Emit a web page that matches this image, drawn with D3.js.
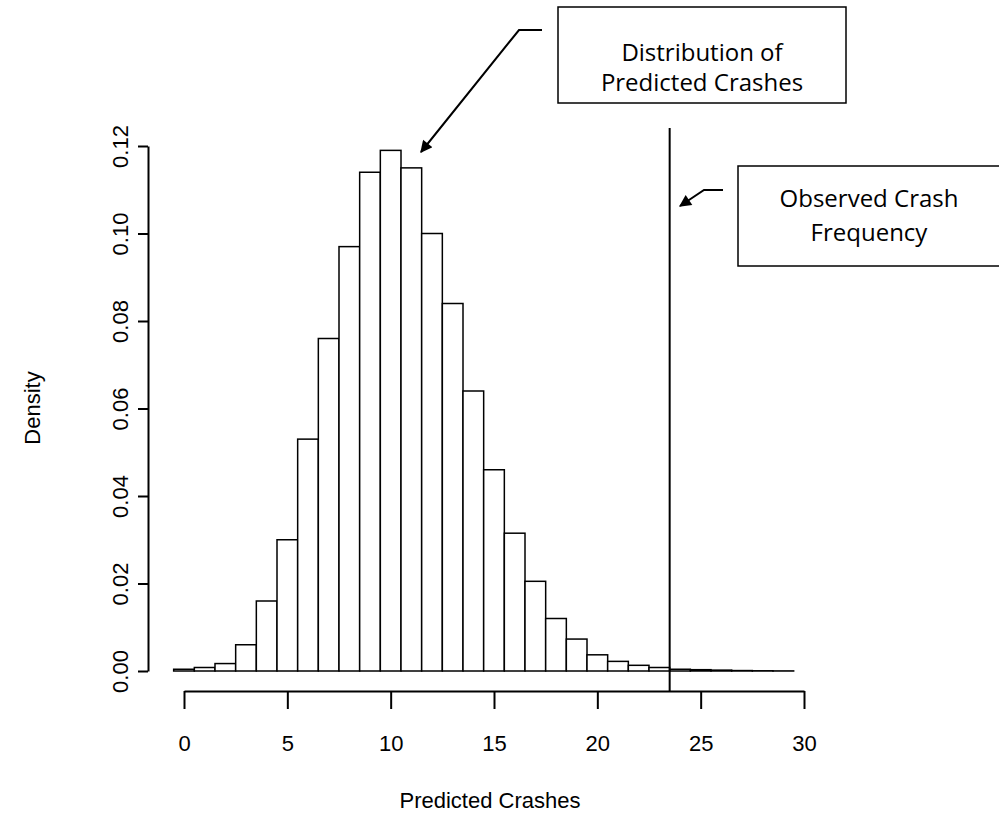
<!DOCTYPE html>
<html>
<head>
<meta charset="utf-8">
<script src="https://cdn.jsdelivr.net/npm/d3@7"></script>
<style>
  body { margin: 0; background: #fff; }
  svg { font-family: "Liberation Sans", Arial, sans-serif; }
  .note { font-family: "Open Sans", "Noto Sans", sans-serif; font-size: 24px; }
</style>
</head>
<body>
<svg id="chart" width="999" height="830"></svg>
<script>
// bin centres (width 1) and densities
const binMids = [0,1,2,3,4,5,6,7,8,9,10,11,12,13,14,15,16,17,18,19,20,21,22,23,24,25,26,27,28,29];
const density = [0.0004,0.0008,0.0017,0.006,0.016,0.030,0.053,0.076,0.097,0.114,0.119,0.115,0.100,0.084,0.064,0.046,0.0315,0.0205,0.012,0.0073,0.0037,0.0022,0.0013,0.0008,0.0004,0.0003,0.0002,0.0001,0.00005,0.00002];
const xTicks = [0,5,10,15,20,25,30];
const yTicks = [0,0.02,0.04,0.06,0.08,0.10,0.12];
const observed = 23.5;

const svg = d3.select("#chart");
const x = d3.scaleLinear().domain([0, 30]).range([184, 804]);
const y = d3.scaleLinear().domain([0, 0.12]).range([671, 146]);

// bars
svg.append("g").selectAll("rect")
    .data(binMids)
    .join("rect")
    .attr("x", (d) => x(d - 0.5))
    .attr("width", x(1) - x(0))
    .attr("y", (d, i) => y(density[i]))
    .attr("height", (d, i) => y(0) - y(density[i]))
    .attr("fill", "#fff")
    .attr("stroke", "#000")
    .attr("stroke-width", 1.5);

// x axis
const xAxis = svg.append("g")
    .attr("transform", "translate(0,691)")
    .call(d3.axisBottom(x).tickValues(xTicks).tickSize(18).tickPadding(26).tickSizeOuter(0));
xAxis.select(".domain").attr("stroke-width", 2);
xAxis.selectAll(".tick line").attr("stroke-width", 2);
xAxis.selectAll("text").attr("font-size", 22).attr("font-family", "Liberation Sans");

// y axis
const yAxis = svg.append("g")
    .attr("transform", "translate(148,0)")
    .call(d3.axisLeft(y).tickValues(yTicks).tickFormat(d3.format(".2f")).tickSize(10).tickSizeOuter(0));
yAxis.select(".domain").attr("stroke-width", 2);
yAxis.selectAll(".tick line").attr("stroke-width", 2);
yAxis.selectAll("text")
    .attr("font-size", 22).attr("font-family", "Liberation Sans")
    .attr("x", null).attr("dy", null)
    .attr("text-anchor", "middle")
    .attr("transform", "translate(-20,0) rotate(-90)");

// axis titles
svg.append("text").attr("x", 490).attr("y", 808).attr("text-anchor", "middle")
    .attr("font-size", 22).text("Predicted Crashes");
svg.append("text").attr("transform", "translate(40,408) rotate(-90)").attr("text-anchor", "middle")
    .attr("font-size", 22).text("Density");

// observed line
svg.append("line")
    .attr("x1", x(observed)).attr("x2", x(observed))
    .attr("y1", 128).attr("y2", 691)
    .attr("stroke", "#000").attr("stroke-width", 2);

// annotations
const defs = svg.append("defs");
defs.append("marker").attr("id", "head")
    .attr("viewBox", "0 0 10 10").attr("refX", 9).attr("refY", 5)
    .attr("markerWidth", 7).attr("markerHeight", 6).attr("orient", "auto")
    .append("path").attr("d", "M0,0L10,5L0,10z").attr("fill", "#000");

function note(box, lines, path) {
    svg.append("rect").attr("x", box[0]).attr("y", box[1]).attr("width", box[2]).attr("height", box[3])
        .attr("fill", "#fff").attr("stroke", "#000").attr("stroke-width", 1.5);
    lines.forEach(function (t) {
        svg.append("text").attr("class", "note")
            .attr("x", t[1]).attr("y", t[2]).attr("text-anchor", "middle").text(t[0]);
    });
    svg.append("path").attr("d", d3.line()(path)).attr("fill", "none")
        .attr("stroke", "#000").attr("stroke-width", 2).attr("marker-end", "url(#head)");
}

note([558, 7, 288, 96],
    [["Distribution of", 702, 61], ["Predicted Crashes", 702, 91]],
    [[542, 30], [519, 30], [421, 152]]);
note([738, 166, 270, 100],
    [["Observed Crash", 869, 207], ["Frequency", 869, 241]],
    [[723, 190], [704, 190], [680, 206]]);
</script>
</body>
</html>
